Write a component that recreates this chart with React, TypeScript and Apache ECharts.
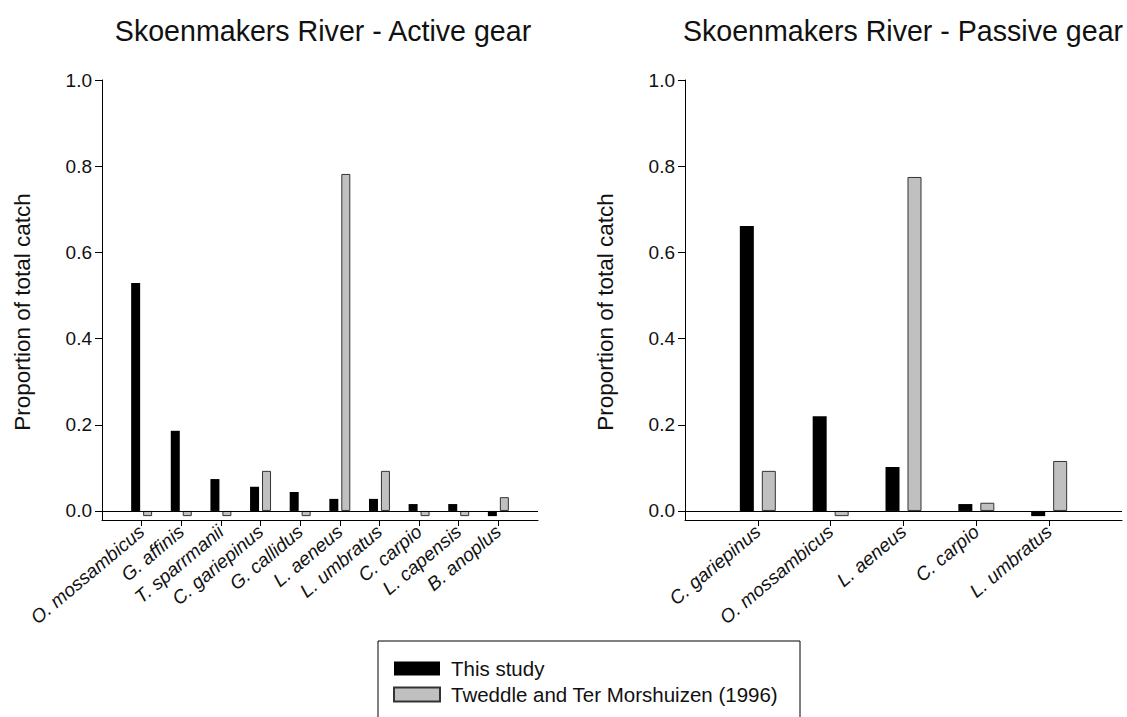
import React, { useEffect, useRef } from "react";
import * as echarts from "echarts";

const activeCategories = ["O. mossambicus", "G. affinis", "T. sparrmanii", "C. gariepinus", "G. callidus", "L. aeneus", "L. umbratus", "C. carpio", "L. capensis", "B. anoplus"];
const activeThisStudy = [0.529, 0.186, 0.074, 0.056, 0.044, 0.028, 0.028, 0.016, 0.016, -0.012];
const activeTweddle = [-0.012, -0.012, -0.012, 0.093, -0.012, 0.782, 0.093, -0.012, -0.012, 0.032];

const passiveCategories = ["C. gariepinus", "O. mossambicus", "L. aeneus", "C. carpio", "L. umbratus"];
const passiveThisStudy = [0.661, 0.22, 0.102, 0.016, -0.012];
const passiveTweddle = [0.093, -0.012, 0.775, 0.019, 0.116];

const yTicks = [0, 0.2, 0.4, 0.6, 0.8, 1.0];
const seriesNames = ["This study", "Tweddle and Ter Morshuizen (1996)"];
const titles = ["Skoenmakers River - Active gear", "Skoenmakers River - Passive gear"];
const yName = "Proportion of total catch";

const FONT = "'Liberation Sans', Arial, Helvetica, sans-serif";

export default function App() {
  const ref = useRef<HTMLDivElement>(null);
  useEffect(() => {
    if (!ref.current) return;
    const chart = echarts.init(ref.current, null, { renderer: "svg" });
    const cats = [activeCategories, passiveCategories];
    const mkX = (i: number) => {
      const c = cats[i];
      return {
        type: "value",
        gridIndex: i,
        min: -1,
        max: c.length,
        axisLine: { onZero: false, lineStyle: { color: "#000", width: 1 } },
        axisTick: { show: true, length: 6, customValues: c.map((_, k) => k), lineStyle: { color: "#000" } },
        axisLabel: {
          customValues: c.map((_, k) => k),
          formatter: (v: number) => c[Math.round(v)] ?? "",
          rotate: 40,
          margin: 9,
          fontSize: 19,
          fontStyle: "italic",
          fontFamily: FONT,
          color: "#111",
        },
        splitLine: { show: false },
      };
    };
    const mkY = (i: number) => ({
      type: "value",
      gridIndex: i,
      min: -0.021,
      max: 1,
      name: yName,
      nameLocation: "middle",
      nameGap: 68,
      nameTextStyle: { fontSize: 22.5, fontFamily: FONT, color: "#111", padding: [0, 24, 0, 0] },
      axisLine: { show: true, onZero: false, lineStyle: { color: "#000", width: 1 } },
      axisTick: { show: true, length: 7, customValues: yTicks, lineStyle: { color: "#000" } },
      axisLabel: {
        customValues: yTicks,
        formatter: (v: number) => v.toFixed(1),
        margin: 10,
        fontSize: 19,
        fontFamily: FONT,
        color: "#111",
      },
      splitLine: { show: false },
    });
    const toPts = (arr: number[]) => arr.map((v, k) => [k, v]);
    const barW = [9, 14];
    const gaps = ["33%", "57%"];
    const data = [
      [activeThisStudy, activeTweddle],
      [passiveThisStudy, passiveTweddle],
    ];
    const series: any[] = [];
    for (let i = 0; i < 2; i++) {
      series.push({
        type: "bar",
        name: seriesNames[0],
        xAxisIndex: i,
        yAxisIndex: i,
        data: toPts(data[i][0]),
        barWidth: barW[i],
        barGap: gaps[i],
        itemStyle: { color: "#000" },
        markLine: {
          silent: true,
          symbol: ["none", "none"],
          label: { show: false },
          lineStyle: { color: "#000", type: "solid", width: 1 },
          data: [{ yAxis: 0 }],
        },
      });
      series.push({
        type: "bar",
        name: seriesNames[1],
        xAxisIndex: i,
        yAxisIndex: i,
        data: toPts(data[i][1]),
        barWidth: barW[i],
        barGap: gaps[i],
        itemStyle: { color: "#c0c0c0", borderColor: "#333", borderWidth: 1 },
      });
    }
    chart.setOption({
      animation: false,
      backgroundColor: "#fff",
      title: [
        { text: titles[0], left: 318, top: 11, textAlign: "center", textStyle: { fontSize: 28.6, fontWeight: "normal", fontFamily: FONT, color: "#111" } },
        { text: titles[1], left: 898, top: 11, textAlign: "center", textStyle: { fontSize: 28.6, fontWeight: "normal", fontFamily: FONT, color: "#111" } },
      ],
      grid: [
        { left: 102, top: 80, width: 436, height: 440 },
        { left: 685, top: 80, width: 437, height: 440 },
      ],
      xAxis: [mkX(0), mkX(1)],
      yAxis: [mkY(0), mkY(1)],
      legend: {
        data: seriesNames,
        orient: "vertical",
        left: 388,
        top: 653,
        itemWidth: 46,
        itemHeight: 14,
        itemGap: 5,
        icon: "rect",
        textStyle: { fontSize: 20.5, fontFamily: FONT, color: "#111", padding: [0, 0, 0, 6] },
        selectedMode: false,
      },
      graphic: [
        {
          type: "rect",
          shape: { x: 378, y: 641, width: 422, height: 100 },
          style: { fill: "none", stroke: "#000", lineWidth: 1 },
          silent: true,
        },
      ],
      series,
    });
    return () => chart.dispose();
  }, []);
  return <div ref={ref} style={{ position: "fixed", left: 0, top: 0, width: 1127, height: 717 }} />;
}
